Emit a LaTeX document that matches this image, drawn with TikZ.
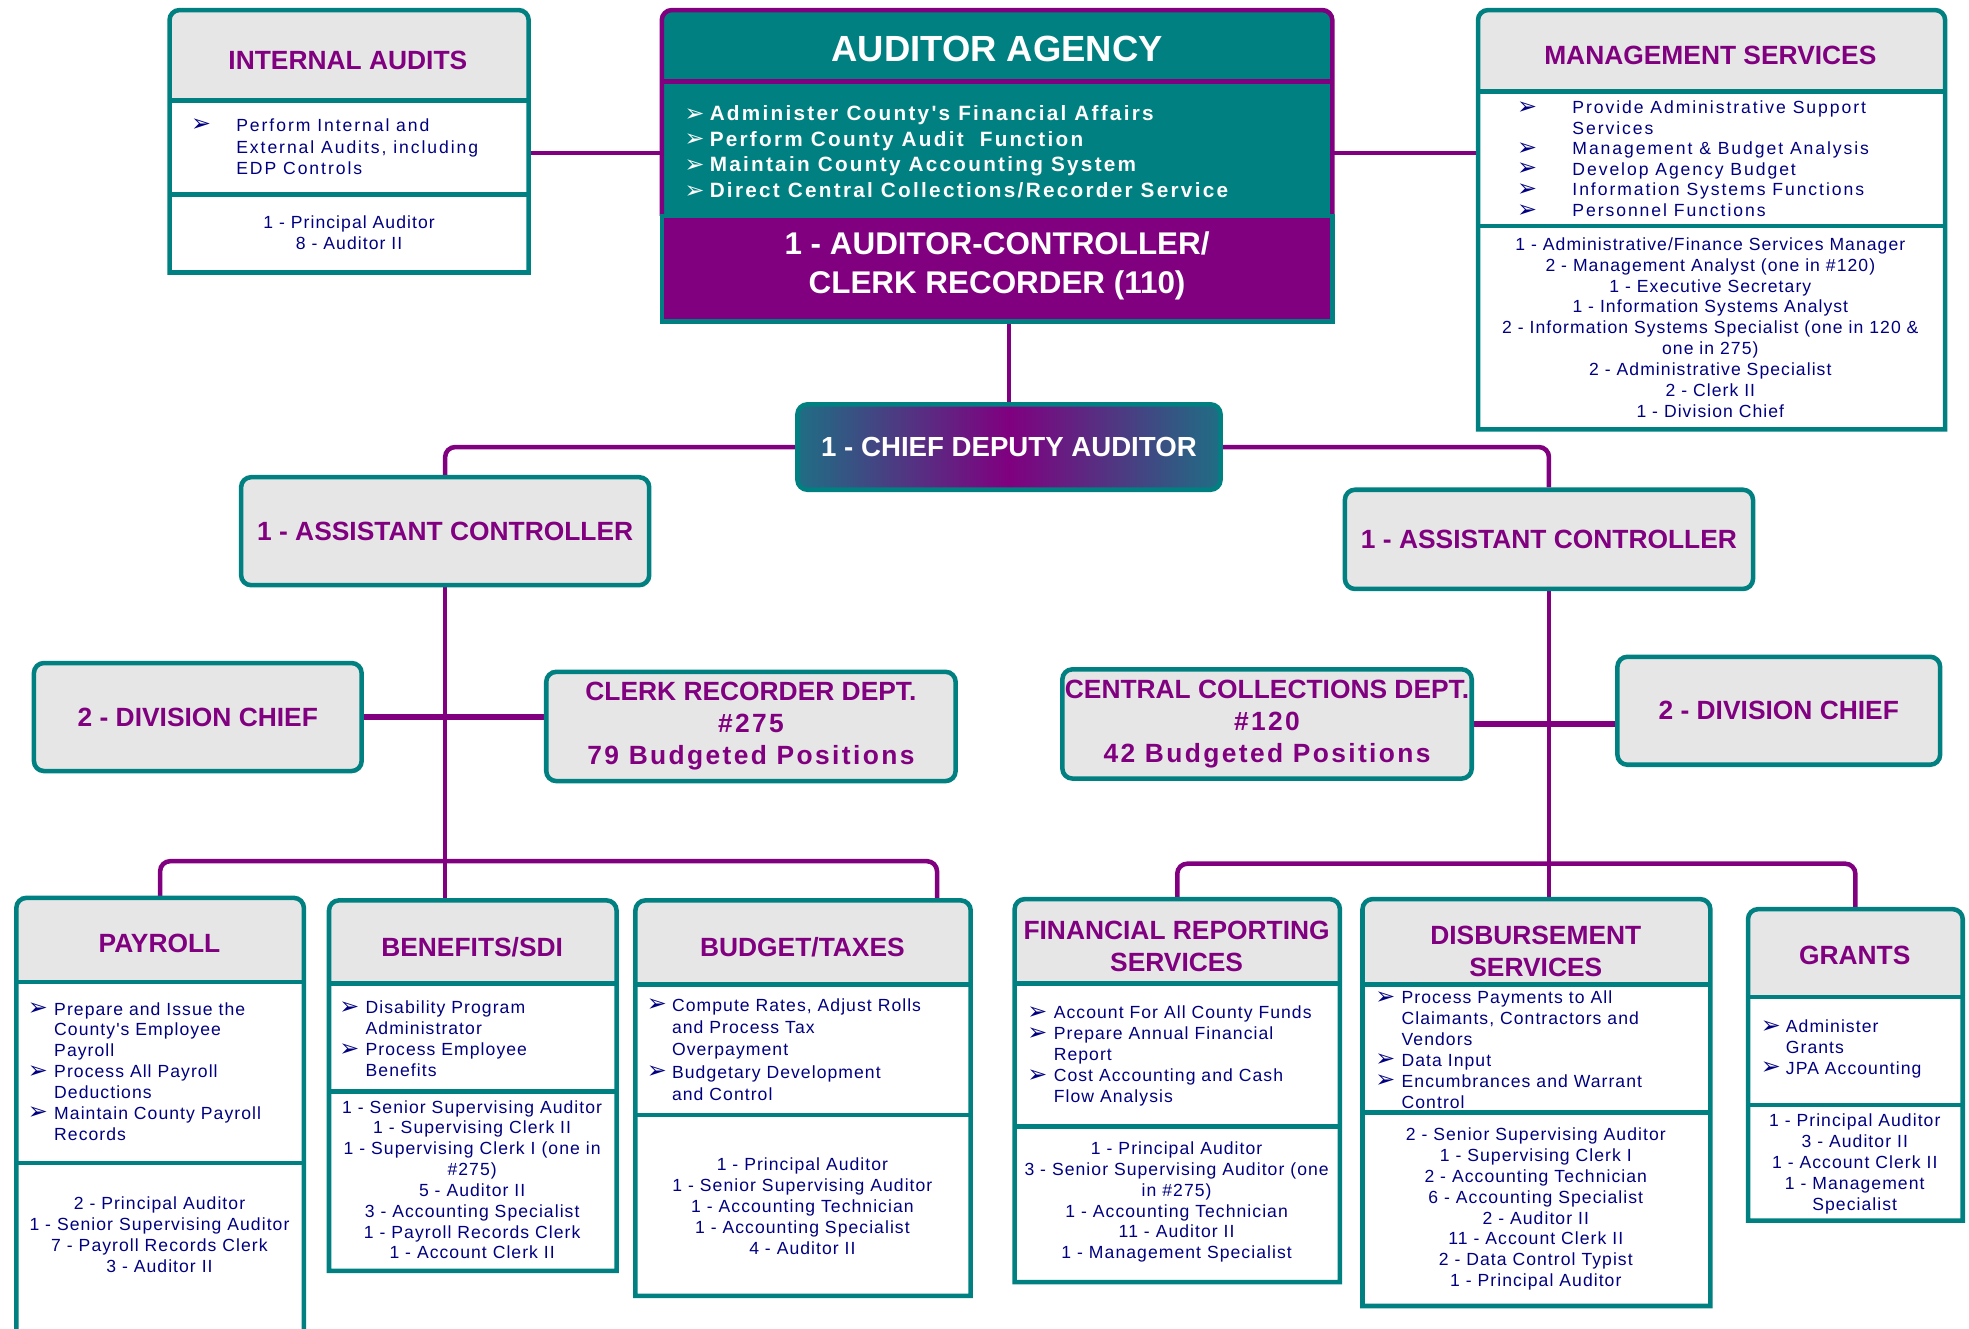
\documentclass[tikz,border=0pt]{standalone}
\usepackage{fontspec}
\setmainfont{Liberation Sans}
\newfontfamily\bodyfont[LetterSpace=6]{Liberation Sans}
\newfontfamily\widefont[LetterSpace=11]{Liberation Sans}
\newfontfamily\spacedfont[LetterSpace=9]{Liberation Sans}
\newfontfamily\symfont{DejaVu Sans}
\usepackage{tikz}
\usetikzlibrary{positioning,fit,backgrounds}

\definecolor{tealline}{HTML}{008080}
\definecolor{plum}{HTML}{800080}
\definecolor{headgrey}{HTML}{E6E6E6}
\definecolor{navytext}{HTML}{000080}
\definecolor{cdedge}{HTML}{1F6E84}

\newcommand{\bul}[1][18pt]{\makebox[#1][l]{\raisebox{-0.5pt}{\symfont\fontsize{19}{10}\selectfont ➢}}}
\newcommand{\ind}[1][18pt]{\hspace*{#1}}
\newcommand{\deptbox}[7]{%
  \fill[headgrey] (#2,#6) [rounded corners=8pt] -- (#2,#3) -- (#4,#3) [sharp corners] -- (#4,#6) -- cycle;
  \draw[frameline] (#2,#6) -- (#4,#6) (#2,#7) -- (#4,#7);
  \draw[frameline] (#2,#5) [rounded corners=8pt] -- (#2,#3) -- (#4,#3) [sharp corners] -- (#4,#5) -- cycle;
  \node[inner sep=0pt, fit={(#2,#3) (#4,#5)}] (#1) {};
}

\begin{document}
\begin{tikzpicture}[x=1pt, y=-1pt,
  frameline/.style={draw=tealline, line width=3.6pt},
  wire/.style={draw=plum, line width=3.6pt, rounded corners=8pt},
  crossbar/.style={draw=plum, line width=5pt},
  greybox/.style={rectangle, rounded corners=8pt, fill=headgrey, draw=tealline, line width=3.6pt, inner sep=0pt},
  unitname/.style={text=plum, align=center, inner sep=0pt, font=\bfseries\fontsize{21}{25.5}\selectfont},
  duties/.style={anchor=north west, inner sep=0pt, align=left, text=navytext, font=\bodyfont\fontsize{14}{16.6}\selectfont},
  staff/.style={anchor=north, inner sep=0pt, align=center, text=navytext, font=\bodyfont\fontsize{14}{16.6}\selectfont}]

  \useasboundingbox (0,0) rectangle (1568,1058);
  \clip (0,0) rectangle (1568,1058);

  % agency
  \fill[tealline] (527,172) [rounded corners=8pt] -- (527,8) -- (1061,8) [sharp corners] -- (1061,172) -- cycle;
  \fill[plum] (527,172) rectangle (1061,256);
  \draw[plum, line width=3.6pt] (527,172) [rounded corners=8pt] -- (527,8) -- (1061,8) [sharp corners] -- (1061,172);
  \draw[plum, line width=3.6pt] (527,65) -- (1061,65);
  \draw[frameline] (527,172) rectangle (1061,256);
  \node[inner sep=0pt, fit={(527,8) (1061,256)}] (agency) {};
  \node[unitname, text=white, font=\bfseries\fontsize{29}{34}\selectfont] (agencyName) at (794,39) {AUDITOR AGENCY};
  \node[duties, text=white, font=\widefont\bfseries\fontsize{16.5}{20.4}\selectfont] (agencyDuties) at (545,84)
    {\bul[20pt]Administer County's Financial Affairs\\\bul[20pt]Perform County Audit~ Function\\\bul[20pt]Maintain County Accounting System\\\bul[20pt]Direct Central Collections/Recorder Service};
  \node[unitname, text=white, font=\bfseries\fontsize{25}{31}\selectfont] (acr) at (794,212) {1 - AUDITOR-CONTROLLER/\\CLERK RECORDER (110)};

  % side units
  \deptbox{ia}{135}{8}{421}{217}{80}{155}
  \node[unitname] (iaName) at (277,48) {INTERNAL AUDITS};
  \node[duties, font=\widefont\fontsize{14}{17.5}\selectfont] (iaDuties) at (152,94)
    {\bul[36pt]Perform Internal and\\\ind[36pt]External Audits, including\\\ind[36pt]EDP Controls};
  \node[staff] (iaStaff) at (278,172) {1 - Principal Auditor\\8 - Auditor II};

  \deptbox{ms}{1177}{8}{1549}{342}{73}{180}
  \node[unitname] (msName) at (1362,44) {MANAGEMENT SERVICES};
  \node[duties, font=\widefont\fontsize{14}{16.4}\selectfont] (msDuties) at (1208,80)
    {\bul[44pt]Provide Administrative Support\\\ind[44pt]Services\\\bul[44pt]Management \& Budget Analysis\\\bul[44pt]Develop Agency Budget\\\bul[44pt]Information Systems Functions\\\bul[44pt]Personnel Functions};
  \node[staff] (msStaff) at (1362,189)
    {1 - Administrative/Finance Services Manager\\2 - Management Analyst (one in \#120)\\1 - Executive Secretary\\1 - Information Systems Analyst\\2 - Information Systems Specialist (one in 120 \&\\one in 275)\\2 - Administrative Specialist\\2 - Clerk II\\1 - Division Chief};

  % chief deputy and controllers
  \node[greybox, unitname, text=white, font=\bfseries\fontsize{22}{26}\selectfont, left color=cdedge, right color=cdedge, middle color=plum,
    minimum width=337pt, minimum height=68pt] (cd) at (803.5,356) {1 - CHIEF DEPUTY AUDITOR};
  \node[greybox, unitname, minimum width=325pt, minimum height=86pt] (ascL) at (354.5,423) {1 - ASSISTANT CONTROLLER};
  \node[greybox, unitname, minimum width=325pt, minimum height=79pt] (ascR) at (1233.5,429.5) {1 - ASSISTANT CONTROLLER};
  \node[greybox, unitname, minimum width=261pt, minimum height=86pt] (dcL) at (157.5,571) {2 - DIVISION CHIEF};
  \node[greybox, unitname, minimum width=257pt, minimum height=86pt] (dcR) at (1416.5,566) {2 - DIVISION CHIEF};
  \node[greybox, unitname, minimum width=326pt, minimum height=87pt] (crd) at (598,578.5)
    {CLERK RECORDER DEPT.\\{\spacedfont\#275}\\{\spacedfont 79 Budgeted Positions}};
  \node[greybox, unitname, minimum width=326pt, minimum height=87pt] (ccd) at (1009,576.5)
    {CENTRAL COLLECTIONS DEPT.\\{\spacedfont\#120}\\{\spacedfont 42 Budgeted Positions}};

  % sections
  \deptbox{payroll}{13}{715}{242}{1064}{782}{926}
  \node[unitname] (payrollName) at (127,751) {PAYROLL};
  \node[duties] (payrollDuties) at (22,798)
    {\bul[21pt]Prepare and Issue the\\\ind[21pt]County's Employee\\\ind[21pt]Payroll\\\bul[21pt]Process All Payroll\\\ind[21pt]Deductions\\\bul[21pt]Maintain County Payroll\\\ind[21pt]Records};
  \node[staff] (payrollStaff) at (127,953) {2 - Principal Auditor\\1 - Senior Supervising Auditor\\7 - Payroll Records Clerk\\3 - Auditor II};

  \deptbox{benefits}{262}{717}{491}{1012}{783}{869}
  \node[unitname] (benefitsName) at (376,754) {BENEFITS/SDI};
  \node[duties] (benefitsDuties) at (270,797)
    {\bul[21pt]Disability Program\\\ind[21pt]Administrator\\\bul[21pt]Process Employee\\\ind[21pt]Benefits};
  \node[staff] (benefitsStaff) at (376,876)
    {1 - Senior Supervising Auditor\\1 - Supervising Clerk II\\1 - Supervising Clerk I (one in\\\#275)\\5 - Auditor II\\3 - Accounting Specialist\\1 - Payroll Records Clerk\\1 - Account Clerk II};

  \deptbox{budget}{506}{717}{773}{1032}{784}{888}
  \node[unitname] (budgetName) at (639,754) {BUDGET/TAXES};
  \node[duties, font=\bodyfont\fontsize{14}{17.7}\selectfont] (budgetDuties) at (515,795)
    {\bul[20pt]Compute Rates, Adjust Rolls\\\ind[20pt]and Process Tax\\\ind[20pt]Overpayment\\\bul[20pt]Budgetary Development\\\ind[20pt]and Control};
  \node[staff] (budgetStaff) at (639,922)
    {1 - Principal Auditor\\1 - Senior Supervising Auditor\\1 - Accounting Technician\\1 - Accounting Specialist\\4 - Auditor II};

  \deptbox{frs}{808}{716}{1067}{1021}{783}{897}
  \node[unitname] (frsName) at (937,754) {FINANCIAL REPORTING\\SERVICES};
  \node[duties] (frsDuties) at (818,801)
    {\bul[21pt]Account For All County Funds\\\bul[21pt]Prepare Annual Financial\\\ind[21pt]Report\\\bul[21pt]Cost Accounting and Cash\\\ind[21pt]Flow Analysis};
  \node[staff] (frsStaff) at (937,909)
    {1 - Principal Auditor\\3 - Senior Supervising Auditor (one\\in \#275)\\1 - Accounting Technician\\11 - Auditor II\\1 - Management Specialist};

  \deptbox{disb}{1085}{716}{1362}{1040}{784}{886}
  \node[unitname] (disbName) at (1223,757.5) {DISBURSEMENT\\SERVICES};
  \node[duties] (disbDuties) at (1095,789)
    {\bul[21pt]Process Payments to All\\\ind[21pt]Claimants, Contractors and\\\ind[21pt]Vendors\\\bul[21pt]Data Input\\\bul[21pt]Encumbrances and Warrant\\\ind[21pt]Control};
  \node[staff] (disbStaff) at (1223,898)
    {2 - Senior Supervising Auditor\\1 - Supervising Clerk I\\2 - Accounting Technician\\6 - Accounting Specialist\\2 - Auditor II\\11 - Account Clerk II\\2 - Data Control Typist\\1 - Principal Auditor};

  \deptbox{grants}{1392}{724}{1563}{972}{794}{880}
  \node[unitname] (grantsName) at (1477,761) {GRANTS};
  \node[duties] (grantsDuties) at (1402,812)
    {\bul[20pt]Administer\\\ind[20pt]Grants\\\bul[20pt]JPA Accounting};
  \node[staff] (grantsStaff) at (1477,887)
    {1 - Principal Auditor\\3 - Auditor II\\1 - Account Clerk II\\1 - Management\\Specialist};

  % connectors
  \begin{pgfonlayer}{background}
    \fill[white] (0,0) rectangle (1568,1058);
    \draw[wire] (ia.east |- 0,122) -- (agency.west |- 0,122);
    \draw[wire] (agency.east |- 0,122) -- (ms.west |- 0,122);
    \draw[wire] (cd.north |- agency.south) -- (cd.north);
    \draw[wire] (cd.west) -| (ascL.north);
    \draw[wire] (cd.east) -| (ascR.north);
    \draw[wire] (ascL.south) -- (ascL.south |- benefits.north);
    \draw[wire] (ascR.south) -- (ascR.south |- disb.north);
    \draw[crossbar] (dcL.east) -- (dcL.east -| crd.west);
    \draw[crossbar] (ccd.east) -- (ccd.east -| dcR.west);
    \draw[wire] (payroll.north) -- ++(0,-29) -| ([xshift=-27pt]budget.north east);
    \draw[wire] (frs.north) -- ++(0,-28) -| (grants.north);
  \end{pgfonlayer}
\end{tikzpicture}
\end{document}
